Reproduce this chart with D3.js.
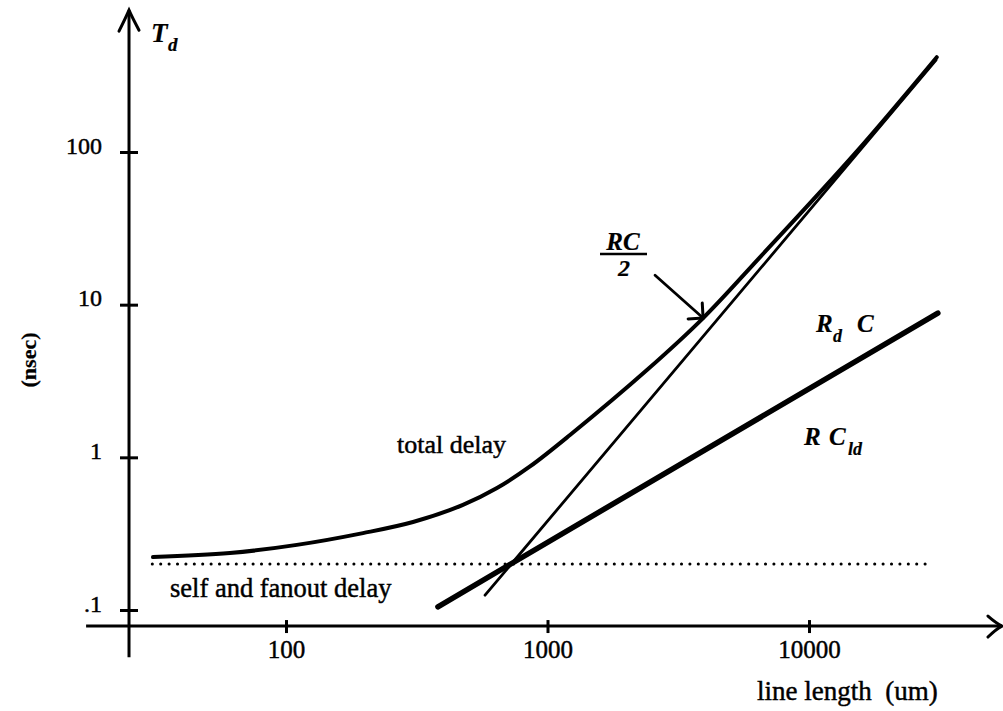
<!DOCTYPE html>
<html><head><meta charset="utf-8">
<script src="https://cdn.jsdelivr.net/npm/d3@7"></script>
<style>
body{margin:0;background:#fff;}
svg text{font-family:"Liberation Serif","Times New Roman",serif;fill:#000;stroke:#000;stroke-width:0.45px;}
</style></head><body>
<svg id="chart" width="1003" height="711"></svg>
<script>
// Wire delay versus line length, log-log axes

const xTicks = [100, 1000, 10000];
const yTicks = [0.1, 1, 10, 100];
const yTickLabels = [".1", "1", "10", "100"];

// total delay (ns) along the line length (um)
const totalLength = [31, 61, 110, 197, 306, 475, 641, 857, 1219, 2400, 3936, 6500, 15000, 30800];
const totalDelay  = [0.222, 0.236, 0.267, 0.319, 0.377, 0.488, 0.629, 0.871, 1.40, 3.73, 8.17, 20.5, 98, 418];

// distributed wire term RC/2
const rcHalfLength = [577, 30600];
const rcHalfDelay  = [0.125, 400];

// driver term Rd C (= R C_ld)
const rdcLength = [381, 31100];
const rdcDelay  = [0.105, 8.81];

// self and fanout delay
const selfLength = [30.8, 29800];
const selfDelay  = [0.2, 0.2];

// where the two axes cross, and how far they run
const axisCrossLength = 25.1;
const axisCrossDelay = 0.0785;
const xAxisExtent = [17.2, 54700];
const yAxisExtent = [0.049, 849];

// RC/2 pointer: tail and tip in data units
const pointerLength = [2578, 3936];
const pointerDelay  = [15.6, 8.17];

const svg = d3.select("#chart");
const x = d3.scaleLog().domain([100, 10000]).range([286, 809]);
const y = d3.scaleLog().domain([0.1, 100]).range([610, 152]);

const ink = "#000";
const zip = (a, b) => a.map((v, i) => [v, b[i]]);
const line = d3.line().x(d => x(d[0])).y(d => y(d[1]));

// ---- axes ----
const x0 = x(axisCrossLength), y0 = y(axisCrossDelay);

// x axis line with open arrowhead
svg.append("line")
  .attr("x1", x(xAxisExtent[0])).attr("x2", x(xAxisExtent[1]))
  .attr("y1", y0).attr("y2", y0)
  .attr("stroke", ink).attr("stroke-width", 3);
const xe = x(xAxisExtent[1]);
svg.append("path")
  .attr("d", `M${xe - 14},${y0 - 10} Q${xe - 6},${y0 - 3} ${xe},${y0} Q${xe - 6},${y0 + 3} ${xe - 14},${y0 + 11}`)
  .attr("fill", "none").attr("stroke", ink).attr("stroke-width", 3).attr("stroke-linecap", "round");

// y axis line with open arrowhead
svg.append("line")
  .attr("x1", x0).attr("x2", x0)
  .attr("y1", y(yAxisExtent[0])).attr("y2", y(yAxisExtent[1]))
  .attr("stroke", ink).attr("stroke-width", 3);
const ye = y(yAxisExtent[1]);
svg.append("path")
  .attr("d", `M${x0 - 10},${ye + 21} Q${x0 - 3},${ye + 7} ${x0},${ye} Q${x0 + 3},${ye + 7} ${x0 + 10},${ye + 20}`)
  .attr("fill", "none").attr("stroke", ink).attr("stroke-width", 3).attr("stroke-linecap", "round");

const xAxis = svg.append("g")
  .attr("transform", `translate(0,${y0})`)
  .call(d3.axisBottom(x).tickValues(xTicks).tickFormat(d3.format("d")).tickSizeOuter(0));
xAxis.select(".domain").remove();
xAxis.selectAll(".tick line").attr("y1", -6).attr("y2", 7).attr("stroke", ink).attr("stroke-width", 3);
xAxis.selectAll(".tick text").attr("y", 32).attr("dy", 0)
  .style("font-size", "25px").style("font-family", '"Liberation Serif",serif').attr("fill", ink);

const yAxis = svg.append("g")
  .attr("transform", `translate(${x0},0)`)
  .call(d3.axisLeft(y).tickValues(yTicks).tickFormat((d, i) => yTickLabels[i]).tickSizeOuter(0));
yAxis.select(".domain").remove();
yAxis.selectAll(".tick line").attr("x1", -9).attr("x2", 9).attr("stroke", ink).attr("stroke-width", 3);
yAxis.selectAll(".tick text").attr("x", -27).attr("dy", 1)
  .style("font-size", "24px").style("font-family", '"Liberation Serif",serif').attr("fill", ink);
yAxis.attr("font-family", null).attr("font-size", null);
xAxis.attr("font-family", null).attr("font-size", null);

// ---- curves ----
svg.append("path").datum(zip(selfLength, selfDelay))
  .attr("d", line).attr("fill", "none").attr("stroke", ink)
  .attr("stroke-width", 3).attr("stroke-linecap", "round").attr("stroke-dasharray", "0.1 8.3");

svg.append("path").datum(zip(rdcLength, rdcDelay))
  .attr("d", line).attr("fill", "none").attr("stroke", ink)
  .attr("stroke-width", 5.5).attr("stroke-linecap", "round");

svg.append("path").datum(zip(rcHalfLength, rcHalfDelay))
  .attr("d", line).attr("fill", "none").attr("stroke", ink)
  .attr("stroke-width", 2.8).attr("stroke-linecap", "round");

svg.append("path").datum(zip(totalLength, totalDelay))
  .attr("d", line.curve(d3.curveCatmullRom.alpha(0.5))).attr("fill", "none").attr("stroke", ink)
  .attr("stroke-width", 4).attr("stroke-linecap", "round");

// ---- RC/2 pointer ----
const px1 = x(pointerLength[0]), py1 = y(pointerDelay[0]);
const px2 = x(pointerLength[1]), py2 = y(pointerDelay[1]);
svg.append("line").attr("x1", px1).attr("y1", py1).attr("x2", px2).attr("y2", py2)
  .attr("stroke", ink).attr("stroke-width", 2.8).attr("stroke-linecap", "round");
const ang = Math.atan2(py2 - py1, px2 - px1) + Math.PI;
const barb = 15;
[ -Math.PI / 4, Math.PI / 4 ].forEach(o => {
  svg.append("line").attr("x1", px2).attr("y1", py2)
    .attr("x2", px2 + barb * Math.cos(ang + o)).attr("y2", py2 + barb * Math.sin(ang + o))
    .attr("stroke", ink).attr("stroke-width", 3).attr("stroke-linecap", "round");
});

// ---- labels ----
const txt = (s, tx, ty, size, opts = {}) => {
  const t = svg.append("text").attr("x", tx).attr("y", ty).text(s)
    .style("font-size", size + "px");
  if (opts.italic) t.style("font-style", "italic");
  if (opts.bold) t.style("font-weight", "bold").style("stroke-width", "0.2px");
  if (opts.anchor) t.attr("text-anchor", opts.anchor);
  if (opts.pre) t.style("white-space", "pre");
  return t;
};

txt("T", 151, 42, 27, {italic: true, bold: true});
txt("d", 168, 51, 19, {italic: true, bold: true});

svg.append("text").attr("transform", "translate(36,360) rotate(-90)")
  .attr("text-anchor", "middle").style("font-size", "22px").style("font-weight", "bold")
  .style("stroke-width", "0.2px").text("(nsec)");

txt("total delay", 397, 453, 26);
txt("self and fanout delay", 170, 597, 26.5);
txt("line length  (um)", 757, 700, 27, {pre: true});

txt("R", 816, 332, 25, {italic: true, bold: true});
txt("d", 833, 342, 18, {italic: true, bold: true});
txt("C", 857, 332, 25, {italic: true, bold: true});

txt("R", 804, 445, 25, {italic: true, bold: true});
txt("C", 829, 445, 25, {italic: true, bold: true});
txt("ld", 848, 455, 18, {italic: true, bold: true});

txt("RC", 623, 250, 25, {italic: true, bold: true, anchor: "middle"});
svg.append("line").attr("x1", 600).attr("x2", 647).attr("y1", 254).attr("y2", 254)
  .attr("stroke", ink).attr("stroke-width", 2.5);
txt("2", 624, 276, 24, {italic: true, bold: true, anchor: "middle"});
</script>
</body></html>
